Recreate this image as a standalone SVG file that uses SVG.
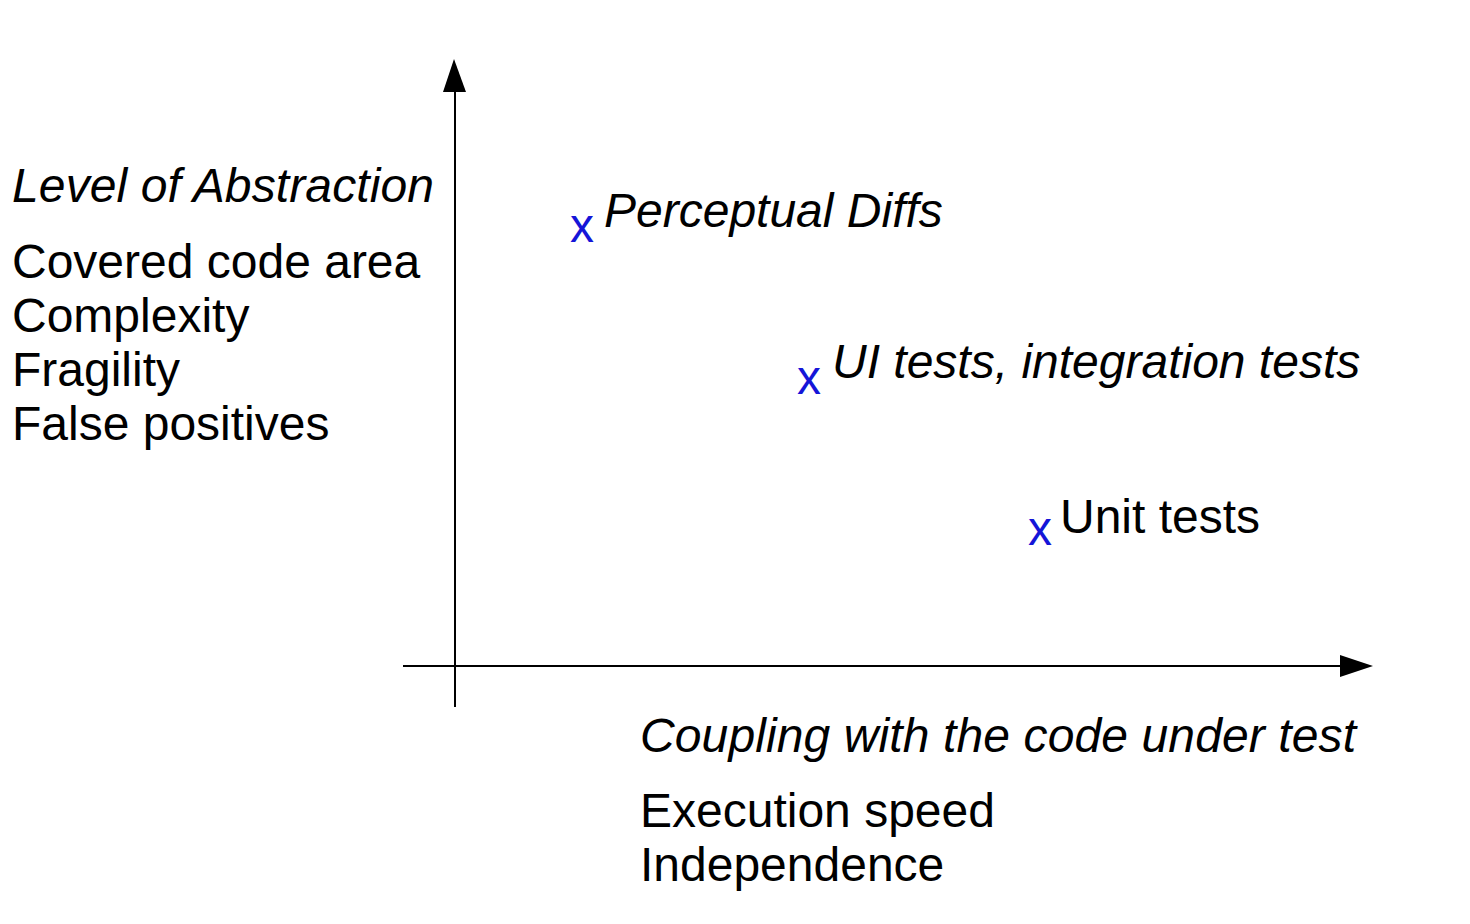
<svg xmlns="http://www.w3.org/2000/svg" width="1470" height="924" viewBox="0 0 1470 924">
<style>
text{font-family:"Liberation Sans",Arial,sans-serif;font-size:48px;fill:#000}
.i{font-style:italic}
.x{fill:#1515d8}
.axis{stroke:#000;stroke-width:2;fill:none}
</style>
<rect width="1470" height="924" fill="#fff"/>
<g id="connectors">
<line class="axis" x1="455" y1="707" x2="455" y2="90"/>
<polygon points="454,59 443,92 466,92" fill="#000"/>
<line class="axis" x1="403" y1="666" x2="1342" y2="666"/>
<polygon points="1373,666 1340,655 1340,677" fill="#000"/>
</g>
<g id="y-label">
<text class="i" x="12" y="202" textLength="422" lengthAdjust="spacing">Level of Abstraction</text>
<text x="12" y="278">Covered code area</text>
<text x="12" y="332">Complexity</text>
<text x="12" y="386">Fragility</text>
<text x="12" y="440">False positives</text>
</g>
<g id="x-label">
<text class="i" x="640" y="752" textLength="716" lengthAdjust="spacing">Coupling with the code under test</text>
<text x="640" y="827">Execution speed</text>
<text x="640" y="881">Independence</text>
</g>
<g id="perceptual-diffs">
<text class="x" x="570" y="242">x</text>
<text class="i" x="604" y="227">Perceptual Diffs</text>
</g>
<g id="ui-tests">
<text class="x" x="797" y="394">x</text>
<text class="i" x="832" y="378">UI tests, integration tests</text>
</g>
<g id="unit-tests">
<text class="x" x="1028" y="545">x</text>
<text x="1060" y="533">Unit tests</text>
</g>
</svg>
